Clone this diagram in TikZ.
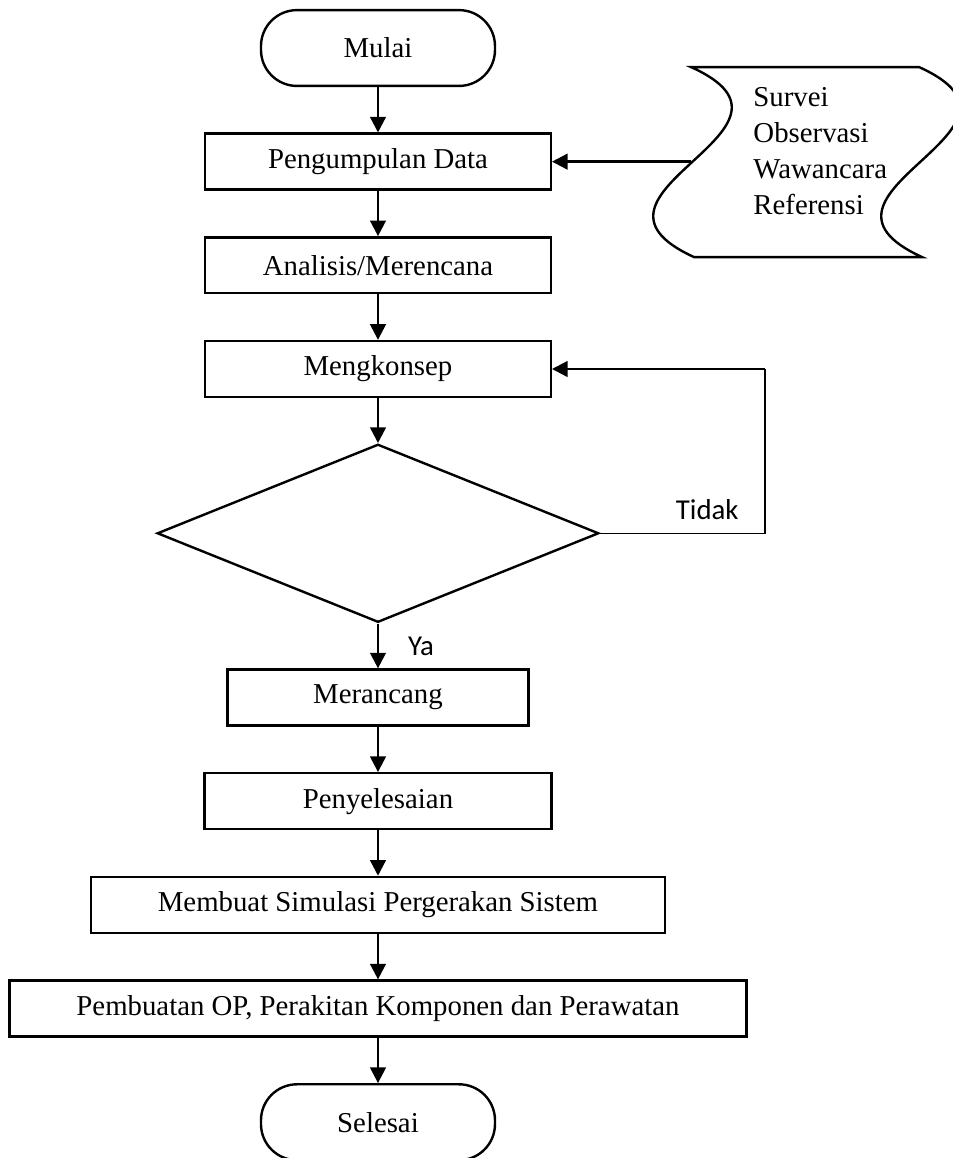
\documentclass[tikz,border=0pt]{standalone}
\usepackage{fontspec}
\setmainfont{Liberation Serif}
\newfontfamily\calibri{Carlito}
\usetikzlibrary{matrix,arrows.meta,shapes.geometric,positioning}

\tikzset{
  >={Triangle[length=6.5pt,width=6.5pt]},
  term/.style={draw, line width=1pt, rounded corners=15pt, minimum width=97.5pt, minimum height=31.6pt},
  proc/.style={draw, line width=1pt, minimum height=23.3pt},
  choice/.style={draw, line width=1pt, diamond, minimum width=184pt, minimum height=74.2pt, inner sep=0pt},
  lbl/.style={font=\calibri\fontsize{12}{14}\selectfont},
}

\begin{document}
\begin{tikzpicture}[font=\fontsize{12}{14.4}\selectfont]
 \useasboundingbox (-157.5pt,20pt) rectangle (239.2pt,-462.5pt);
 \matrix (m) [matrix of nodes, row sep=18.9pt, matrix anchor=m-1-1.center] at (0,0)
  {
    |[term]| Mulai \\
    |[proc, minimum width=144pt]| Pengumpulan Data \\
    |[proc, minimum width=144pt]| Analisis/Merencana \\
    |[proc, minimum width=144pt]| Mengkonsep \\
    |[choice]| {} \\
    |[proc, minimum width=125.5pt]| Merancang \\
    |[proc, minimum width=144.5pt]| Penyelesaian \\
    |[proc, minimum width=239pt]| Membuat Simulasi Pergerakan Sistem \\
    |[proc, minimum width=307pt]| Pembuatan OP, Perakitan Komponen dan Perawatan \\
    |[term]| Selesai \\
  };
  \path[->, line width=1pt]
  (m-1-1) edge (m-2-1)
  (m-2-1) edge (m-3-1)
  (m-3-1) edge (m-4-1)
  (m-4-1) edge (m-5-1)
  (m-5-1) edge node [lbl, right=8.7pt] {Ya} (m-6-1)
  (m-6-1) edge (m-7-1)
  (m-7-1) edge (m-8-1)
  (m-8-1) edge (m-9-1)
  (m-9-1) edge (m-10-1)
;
  % loop back when the check fails
  \draw[line width=0.6pt] (m-5-1.east) -- node [lbl, above=2pt, pos=0.65] {Tidak} ++(68.75pt,0) coordinate (turn)
    -- (turn |- m-4-1.east) coordinate (back);
  \draw[->, line width=1pt] (back) -- (m-4-1.east);
  % data sources
  \node [align=left, inner sep=0pt, font=\fontsize{12}{15}\selectfont, right=83.75pt of m-2-1, yshift=4.2pt] (src)
    {Survei\\Observasi\\Wawancara\\Referensi};
  \draw[line width=1pt, shift={(src.west)}] (-25.83pt,35.21pt)
    .. controls (32.5pt,8.96pt) and (-82.92pt,-17.29pt) .. (-24.58pt,-43.96pt)
    -- (70.42pt,-43.96pt)
    .. controls (12.08pt,-17.29pt) and (127.5pt,8.96pt) .. (69.17pt,35.21pt)
    -- cycle;
  \draw[->, line width=1pt] ([xshift=-25.83pt]src.west |- m-2-1) -- (m-2-1);
\end{tikzpicture}
\end{document}
